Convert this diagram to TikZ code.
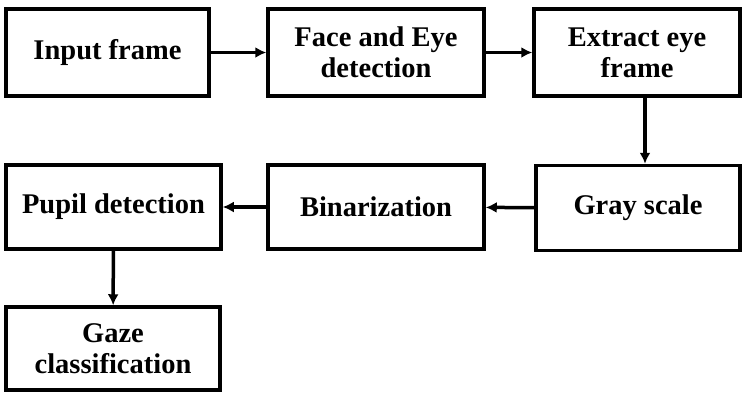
\documentclass[tikz,border=0pt]{standalone}
\usepackage{fontspec}
\setmainfont{Liberation Serif}
\usetikzlibrary{arrows.meta}

\begin{document}
\begin{tikzpicture}[x=1pt,y=-1pt]
        \tikzstyle{block}=[draw, line width=3.5pt, align=center, inner sep=0pt,
            font=\fontsize{28.5}{31}\selectfont\bfseries]
        \tikzstyle{flow}=[line width=3.5pt, -{Latex[length=11pt,width=11pt]}]
        \useasboundingbox (0,0) rectangle (743,392);
        \node [block, minimum width=203, minimum height=87] (input) at (107.5,52.5) {Input frame};
        \node [block, minimum width=216, minimum height=87] (face) at (376,52.5) {Face and Eye\\detection};
        \node [block, minimum width=206, minimum height=87] (extract) at (637,52.5) {Extract eye\\frame};
        \node [block, minimum width=204, minimum height=85] (gray) at (638,208) {Gray scale};
        \node [block, minimum width=216, minimum height=84] (binar) at (376,207) {Binarization};
        \node [block, minimum width=215, minimum height=84] (pupil) at (113.5,207) {Pupil detection};
        \node [block, minimum width=214, minimum height=83] (gaze) at (113,348.5) {Gaze\\classification};
        \draw [flow] (input) -- (face);
        \draw [flow] (face) -- (extract);
        \draw [flow] ([xshift=8]extract.south) -- ([xshift=8]extract.south |- gray.north);
        \draw [flow] (gray) -- (binar);
        \draw [flow] (binar) -- (pupil);
        \draw [flow] (pupil) -- (gaze);
\end{tikzpicture}
\end{document}
